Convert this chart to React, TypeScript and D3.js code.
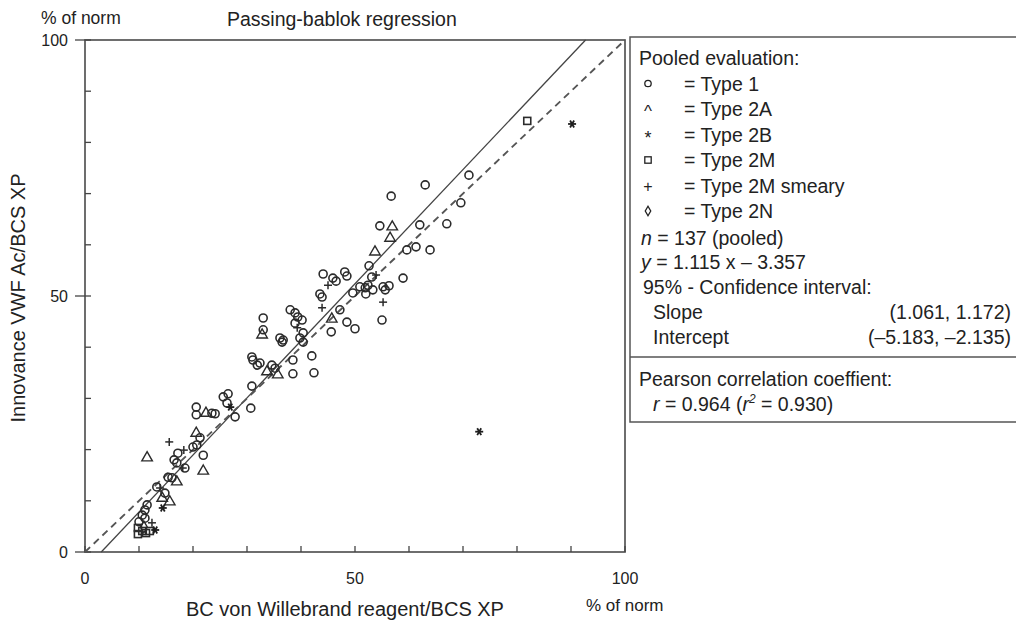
import React from 'react';
import * as d3 from 'd3';

// values, in % of norm: [BC vWF, Innovance]
const type1: [number, number][] = [
  [71.1, 73.6], [63.0, 71.7], [69.6, 68.2], [62.0, 63.9], [67.0, 64.1], [63.9, 59.0],
  [56.7, 69.5], [54.6, 63.7], [61.3, 59.6], [59.6, 59.0], [52.6, 55.9], [58.9, 53.5],
  [48.1, 54.7], [48.5, 53.9], [44.1, 54.3], [45.9, 53.5], [46.5, 52.9], [53.1, 53.7],
  [43.5, 50.4], [43.9, 49.8], [50.9, 51.8], [51.9, 51.6], [52.4, 52.1], [49.6, 50.6],
  [52.0, 50.4], [53.3, 51.2], [55.2, 51.8], [56.3, 52.0], [55.6, 51.2], [55.0, 45.3],
  [48.5, 44.9], [50.0, 43.6], [45.6, 43.0], [40.4, 42.8], [38.0, 47.3], [38.9, 46.7],
  [39.4, 45.9], [40.2, 45.3], [38.9, 44.7], [39.8, 41.8], [40.4, 41.0], [36.7, 41.4],
  [47.2, 47.3], [33.0, 45.7], [33.0, 43.4], [36.1, 41.8], [36.5, 41.0], [42.0, 38.3],
  [30.9, 38.1], [31.1, 37.5], [31.9, 36.5], [32.4, 36.9], [34.6, 36.5], [35.2, 35.9],
  [38.5, 37.5], [38.5, 34.8], [42.4, 35.0], [30.9, 32.4], [25.6, 30.3], [26.5, 30.9],
  [26.3, 29.1], [20.6, 28.3], [20.6, 26.8], [23.5, 27.1], [24.1, 27.0], [27.8, 26.4],
  [30.7, 28.1], [21.3, 22.3], [20.0, 20.5], [20.7, 20.9], [21.9, 18.9], [16.5, 18.0],
  [17.0, 17.4], [17.2, 19.3], [18.5, 16.4], [15.4, 14.6], [16.1, 14.5], [13.3, 12.7],
  [14.8, 11.5], [11.5, 9.2], [11.1, 8.2], [10.6, 7.2], [11.1, 6.6], [10.0, 5.9],
];
const type2A: [number, number][] = [
  [56.9, 63.5], [56.5, 61.3], [53.7, 58.6], [45.7, 45.5], [32.8, 42.4], [33.7, 35.2],
  [35.7, 34.6], [22.4, 27.1], [20.6, 23.2], [21.9, 15.8], [11.5, 18.4], [17.0, 13.7],
  [14.3, 10.5], [15.7, 9.8],
];
const type2B: [number, number][] = [
  [90.2, 83.6], [73.0, 23.5], [26.9, 28.3], [14.4, 8.6], [13.0, 4.3],
];
const type2M: [number, number][] = [
  [81.9, 84.2], [9.8, 4.7], [10.6, 4.1], [11.3, 3.7], [12.0, 4.1], [9.8, 3.5],
];
const type2MSmeary: [number, number][] = [
  [53.9, 54.1], [45.0, 52.1], [55.2, 48.8], [43.9, 47.7], [39.3, 43.8], [18.3, 19.9],
  [18.1, 16.4], [15.6, 21.5], [13.9, 12.5], [12.4, 5.7],
];
const type2N: [number, number][] = [[10.9, 4.9]];

const slope = 1.115;
const intercept = -3.357;

const xTicks = d3.range(0, 101, 10);
const yTicks = d3.range(0, 101, 10);
const majorTicks = [0, 50, 100];

const legendTypes = ['Type 1', 'Type 2A', 'Type 2B', 'Type 2M', 'Type 2M smeary', 'Type 2N'];

const ink = '#2b2b2b';
const font = "'Liberation Sans', Arial, sans-serif";

function Marker({ kind, cx, cy }: { kind: string; cx: number; cy: number }) {
  const r = 4;
  if (kind === 'circle')
    return <circle cx={cx} cy={cy} r={r} fill="none" stroke={ink} strokeWidth={1.6} />;
  if (kind === 'triangle') {
    const p = d3.symbol(d3.symbolTriangle, 48)();
    return <path d={p!} transform={`translate(${cx},${cy})`} fill="none" stroke={ink} strokeWidth={1.4} />;
  }
  if (kind === 'square')
    return <rect x={cx - r + 0.5} y={cy - r + 0.5} width={2 * r - 1} height={2 * r - 1} fill="none" stroke={ink} strokeWidth={1.6} />;
  if (kind === 'diamond') {
    const p = d3.symbol(d3.symbolDiamond, 40)();
    return <path d={p!} transform={`translate(${cx},${cy})`} fill="none" stroke={ink} strokeWidth={1.4} />;
  }
  if (kind === 'plus')
    return (
      <g stroke={ink} strokeWidth={1.5}>
        <line x1={cx - r} x2={cx + r} y1={cy} y2={cy} />
        <line x1={cx} x2={cx} y1={cy - r} y2={cy + r} />
      </g>
    );
  // asterisk
  return (
    <g stroke="#1e1e1e" strokeWidth={1.8}>
      {[0, 60, 120].map((a) => {
        const dx = Math.cos((a * Math.PI) / 180) * r;
        const dy = Math.sin((a * Math.PI) / 180) * r;
        return <line key={a} x1={cx - dx} x2={cx + dx} y1={cy - dy} y2={cy + dy} />;
      })}
    </g>
  );
}

function LegendSymbol({ i, cx, cy }: { i: number; cx: number; cy: number }) {
  if (i === 0) return <circle cx={cx} cy={cy} r={3.2} fill="none" stroke="#222" strokeWidth={1.3} />;
  if (i === 1) return <text x={cx} y={cy + 8} textAnchor="middle" fontSize={17}>^</text>;
  if (i === 2) return <text x={cx} y={cy + 9} textAnchor="middle" fontSize={18}>*</text>;
  if (i === 3) return <rect x={cx - 3.2} y={cy - 3.2} width={6.4} height={6.4} fill="none" stroke="#222" strokeWidth={1.3} />;
  if (i === 4) return <text x={cx} y={cy + 6} textAnchor="middle" fontSize={16}>+</text>;
  const p = d3.symbol(d3.symbolDiamond, 26)();
  return <path d={p!} transform={`translate(${cx},${cy})`} fill="none" stroke="#222" strokeWidth={1.3} />;
}

export default function App() {
  const width = 1016;
  const height = 622;
  const x = d3.scaleLinear().domain([0, 100]).range([85, 625]);
  const y = d3.scaleLinear().domain([0, 100]).range([552, 40]);

  const series: { kind: string; data: [number, number][] }[] = [
    { kind: 'circle', data: type1 },
    { kind: 'triangle', data: type2A },
    { kind: 'square', data: type2M },
    { kind: 'diamond', data: type2N },
    { kind: 'plus', data: type2MSmeary },
    { kind: 'asterisk', data: type2B },
  ];

  const regLine = d3.line<number>()
    .x((v) => x(v))
    .y((v) => y(slope * v + intercept));
  const x0 = -intercept / slope;
  const x1 = (100 - intercept) / slope;

  const rows = [58, 83.5, 109, 134.5, 160, 185.5, 211];
  const fs = 19.5;

  return (
    <svg width={width} height={height} style={{ position: 'absolute', left: 0, top: 0 }}>
      <rect width={width} height={height} fill="#fff" />

      {/* frame */}
      <rect x={85} y={40} width={540} height={512} fill="none" stroke="#555" strokeWidth={1.7} />

      {/* ticks */}
      {yTicks.map((t) => (
        <line key={'yt' + t} x1={majorTicks.includes(t) ? 75 : 85} x2={91} y1={y(t)} y2={y(t)} stroke="#444" strokeWidth={1.3} />
      ))}
      {xTicks.map((t) => (
        <line key={'xt' + t} x1={x(t)} x2={x(t)} y1={552} y2={546} stroke="#444" strokeWidth={1.3} />
      ))}
      {majorTicks.map((t) => (
        <text key={'xl' + t} x={x(t)} y={584} textAnchor="middle" fontFamily={font} fontSize={16} fill="#222">{t}</text>
      ))}
      {majorTicks.map((t) => (
        <text key={'yl' + t} x={68} y={y(t) + 6} textAnchor="end" fontFamily={font} fontSize={16} fill="#222">{t}</text>
      ))}

      {/* lines */}
      <path d={regLine([x0, x1])!} fill="none" stroke="#444" strokeWidth={1.3} />
      <line x1={x(0)} y1={y(0)} x2={x(100)} y2={y(100)} stroke="#555" strokeWidth={1.9} strokeDasharray="7,5" />

      {/* points */}
      {series.map((s) =>
        s.data.map((d, i) => <Marker key={s.kind + i} kind={s.kind} cx={x(d[0])} cy={y(d[1])} />)
      )}

      {/* titles */}
      <text x={227} y={26} fontFamily={font} fontSize={19.5} fill="#222">Passing-bablok regression</text>
      <text x={41} y={24} fontFamily={font} fontSize={17.5} fill="#222">% of norm</text>
      <text x={586} y={611} fontFamily={font} fontSize={17} fill="#222">% of norm</text>
      <text x={345} y={616} textAnchor="middle" fontFamily={font} fontSize={20} fill="#222">BC von Willebrand reagent/BCS XP</text>
      <text transform="translate(25,298) rotate(-90)" textAnchor="middle" fontFamily={font} fontSize={20} fill="#222">Innovance VWF Ac/BCS XP</text>

      {/* legend box */}
      <rect x={630} y={37} width={400} height={385} fill="none" stroke="#555" strokeWidth={1.5} />
      <line x1={630} x2={1016} y1={357} y2={357} stroke="#555" strokeWidth={1.5} />
      <g fontFamily={font} fontSize={fs} fill="#222">
        <text x={639} y={rows[0] + 7}>Pooled evaluation:</text>
        {legendTypes.map((lab, i) => (
          <g key={lab}>
            <LegendSymbol i={i} cx={648} cy={rows[i + 1]} />
            <text x={684} y={rows[i + 1] + 7}>= {lab}</text>
          </g>
        ))}
        <text x={641} y={245}><tspan fontStyle="italic">n</tspan> = 137 (pooled)</text>
        <text x={641} y={269}><tspan fontStyle="italic">y</tspan> = 1.115 x – 3.357</text>
        <text x={643} y={294}>95% - Confidence interval:</text>
        <text x={653} y={319}>Slope</text>
        <text x={1011} y={319} textAnchor="end">(1.061, 1.172)</text>
        <text x={653} y={344}>Intercept</text>
        <text x={1011} y={344} textAnchor="end">(–5.183, –2.135)</text>
        <text x={639} y={386}>Pearson correlation coeffient:</text>
        <text x={653} y={411}>
          <tspan fontStyle="italic">r</tspan> = 0.964 (<tspan fontStyle="italic">r</tspan>
          <tspan fontSize={12} dy={-8} fontStyle="italic">2</tspan>
          <tspan dy={8}> = 0.930)</tspan>
        </text>
      </g>
    </svg>
  );
}
